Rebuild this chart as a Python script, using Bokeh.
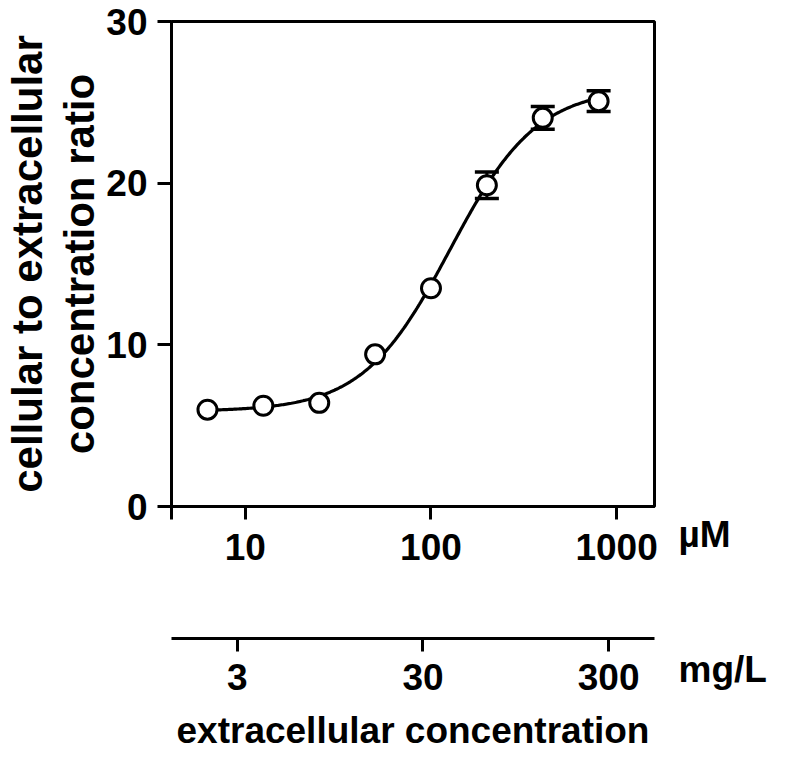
import numpy as np
from bokeh.plotting import figure
from bokeh.models import (Range1d, LogAxis, LinearAxis, LogScale, FixedTicker,
                          CustomJSTickFormatter, PrintfTickFormatter)
from bokeh.embed import file_html
from bokeh.resources import INLINE

# ---------------- data ----------------
conc_uM = [6.25, 12.5, 25, 50, 100, 200, 400, 800]          # extracellular concentration, µM
ratio = [5.99, 6.23, 6.41, 9.41, 13.5, 19.87, 24.04, 25.07]  # cellular / extracellular ratio
ratio_err = [0, 0, 0, 0, 0, 0.82, 0.70, 0.64]                # visible error bars only
uM_ticks = [10, 100, 1000]
mgL_ticks = [3, 30, 300]
y_ticks = [0, 10, 20, 30]
uM_unit = "µM"
mgL_unit = "mg/L"
molar_mass = 331.3        # g/mol, converts mg/L to µM
x_start, x_end = 4, 1600  # µM
y_start, y_end = 0, 30

FONT = "Liberation Sans"
FS = "37px"

# ---------------- sigmoid (4-parameter logistic) least-squares fit of the data ----------------
lx = np.log10(np.array(conc_uM, dtype=float))
yy = np.array(ratio, dtype=float)
logec = np.linspace(1.5, 3.0, 601)[:, None, None]
hill = np.linspace(0.5, 4.0, 701)[None, :, None]
F = 1.0 / (1.0 + 10 ** ((logec - lx) * hill))
fm = F.mean(-1, keepdims=True)
ym = yy.mean()
slope = ((F - fm) * (yy - ym)).sum(-1) / ((F - fm) ** 2).sum(-1)
inter = ym - slope * fm[..., 0]
res = ((inter[..., None] + slope[..., None] * F - yy) ** 2).sum(-1)
i, j = np.unravel_index(res.argmin(), res.shape)
bottom, span = inter[i, j], slope[i, j]
ec50, nh = logec[i, 0, 0], hill[0, j, 0]
xs = np.logspace(lx.min(), lx.max(), 300)
ys = bottom + span / (1.0 + 10 ** ((ec50 - np.log10(xs)) * nh))

# ---------------- figure ----------------
p = figure(width=772, height=756, x_axis_type="log",
           x_range=Range1d(x_start, x_end), y_range=Range1d(y_start, y_end),
           output_backend="svg", toolbar_location=None,
           min_border_left=164, min_border_right=118, min_border_top=21, min_border_bottom=250)
p.grid.visible = False
p.outline_line_color = "black"
p.outline_line_width = 3
p.outline_line_alpha = 1
p.background_fill_color = "white"
p.border_fill_color = "white"

fac = 1000.0 / molar_mass
p.extra_x_ranges = {"mgL": Range1d(x_start / fac, x_end / fac)}
p.extra_x_scales = {"mgL": LogScale()}

def style_axis(ax, tick_out=13):
    ax.axis_line_width = 3
    ax.axis_line_color = "black"
    ax.major_tick_line_width = 3
    ax.major_tick_line_color = "black"
    ax.major_tick_out = tick_out
    ax.major_tick_in = 0
    ax.minor_tick_line_color = None
    ax.major_label_text_font = FONT
    ax.major_label_text_font_style = "bold"
    ax.major_label_text_font_size = FS
    ax.major_label_text_color = "black"
    ax.axis_label_text_font = FONT
    ax.axis_label_text_font_style = "bold"
    ax.axis_label_text_font_size = FS
    ax.axis_label_text_color = "black"

xa = p.xaxis[0]
style_axis(xa)
xa.ticker = FixedTicker(ticks=[x_start] + uM_ticks)
xa.formatter = CustomJSTickFormatter(code="return tick < 5 ? '' : tick.toFixed(0);")
xa.major_label_standoff = 14
xa.axis_label = " "
xa.axis_label_standoff = 32

xa2 = LogAxis(x_range_name="mgL")
style_axis(xa2)
xa2.ticker = FixedTicker(ticks=mgL_ticks)
xa2.formatter = PrintfTickFormatter(format="%d")
xa2.major_label_standoff = 12
xa2.axis_label = "extracellular concentration"
xa2.axis_label_standoff = 17
p.add_layout(xa2, "below")

ya = p.yaxis[0]
style_axis(ya, tick_out=14)
ya.ticker = FixedTicker(ticks=y_ticks)
ya.major_label_standoff = 10
ya.axis_label = "cellular to extracellular\nconcentration ratio"
ya.axis_label_text_font_size = "42px"
ya.axis_label_standoff = 0
ya.axis_label_text_line_height = 1.12

# unit captions of the two x scales: horizontal label of a tick-less right axis.
# The label block is centred on the frame, so leading empty lines push the two
# captions down to the rows of the x tick labels.
ua = LinearAxis()
ua.ticker = FixedTicker(ticks=[])
ua.axis_line_color = None
ua.major_tick_line_color = None
ua.minor_tick_line_color = None
ua.major_tick_out = 0
ua.major_label_text_font_size = "1px"
ua.axis_label = "\n" * 10 + uM_unit + "\n\n" + mgL_unit
ua.axis_label_orientation = "horizontal"
ua.axis_label_text_align = "left"
ua.axis_label_text_font = FONT
ua.axis_label_text_font_style = "bold"
ua.axis_label_text_font_size = FS
ua.axis_label_text_color = "black"
ua.axis_label_text_line_height = 1.65
ua.axis_label_standoff = 24
p.add_layout(ua, "right")

# fitted curve
p.line(xs, ys, line_color="black", line_width=3.2)

# error bars
ex = [c for c, e in zip(conc_uM, ratio_err) if e > 0]
elo = [r - e for r, e in zip(ratio, ratio_err) if e > 0]
ehi = [r + e for r, e in zip(ratio, ratio_err) if e > 0]
p.segment(ex, elo, ex, ehi, line_color="black", line_width=3)
p.scatter(ex, elo, marker="dash", size=24, line_width=3.5, line_color="black")
p.scatter(ex, ehi, marker="dash", size=24, line_width=3.5, line_color="black")

# data points
p.scatter(conc_uM, ratio, marker="circle", size=19, fill_color="white",
          line_color="black", line_width=3)

open("out.html", "w").write(file_html(p, INLINE))
